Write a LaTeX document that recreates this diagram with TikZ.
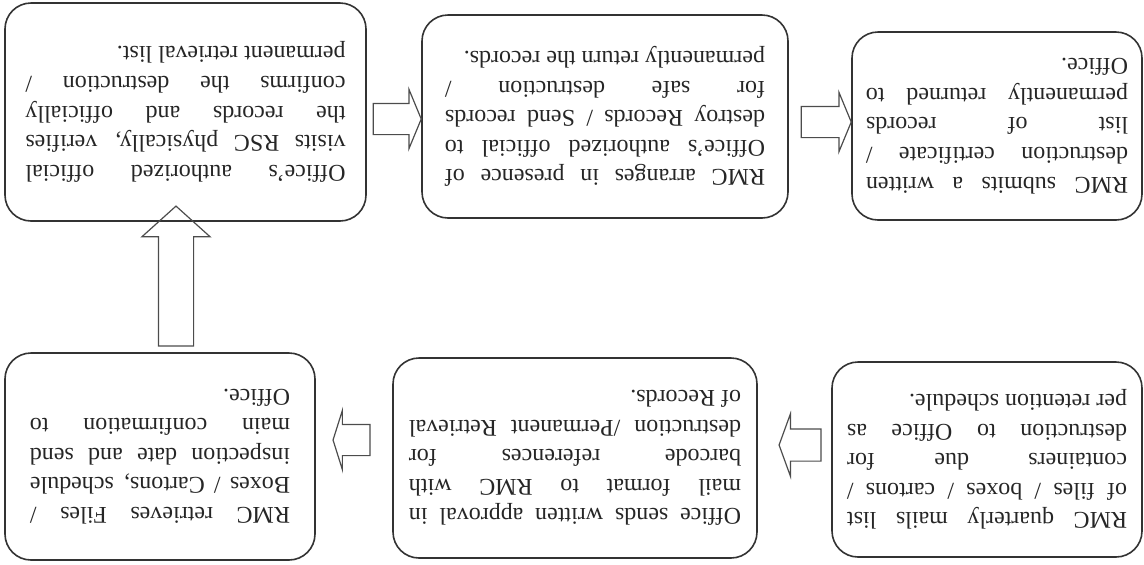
\documentclass[tikz,border=0pt]{standalone}
\usepackage{fontspec}
\setmainfont{Liberation Serif}
\usetikzlibrary{shapes.arrows}

\hyphenpenalty=10000
\exhyphenpenalty=10000

\begin{document}
\begin{tikzpicture}[x=0.5pt,y=-0.5pt,
  stage/.style={draw=black!80,line width=0.8pt,rounded corners=13pt,rotate=180,
    align=justify,inner sep=0pt,text=black!85,
    font=\fontsize{12}{14.8}\selectfont},
  blockarrow/.style={draw=black!70,line width=0.6pt,single arrow,inner xsep=0pt,
    inner ysep=7.5pt,single arrow head extend=7pt}]
\useasboundingbox (0,0) rectangle (1144,564);

% scanned page is upside down: text turned by 180 degrees
\node[stage,minimum width=180.5pt,minimum height=109pt,text width=160pt] (visit) at (185.5,112)
  {Office's authorized official\linebreak visits RSC physically, verifies\linebreak the records and officially\linebreak confirms the destruction /\linebreak permanent retrieval list.};
\node[stage,minimum width=183pt,minimum height=101.5pt,text width=160pt] (destroy) at (605,116.5)
  {RMC arranges in presence of\linebreak Office's authorized official to\linebreak destroy Records / Send records\linebreak for safe destruction /\linebreak permanently return the records.};
\node[stage,minimum width=145pt,minimum height=94pt,text width=131pt] (certify) at (997,126)
  {RMC submits a written\linebreak destruction certificate /\linebreak list of records\linebreak permanently returned to\linebreak Office.};
\node[stage,minimum width=155pt,minimum height=103.5pt,text width=130pt] (retrieve) at (160,456.5)
  {RMC retrieves Files /\linebreak Boxes / Cartons, schedule\linebreak inspection date and send\linebreak main confirmation to\linebreak Office.};
\node[stage,minimum width=182pt,minimum height=100pt,text width=166pt] (approve) at (575,458)
  {Office sends written approval in\linebreak mail format to RMC with\linebreak barcode references for\linebreak destruction /Permanent Retrieval\linebreak of Records.};
\node[stage,minimum width=155pt,minimum height=97.5pt,text width=140pt] (mail) at (987,459.5)
  {RMC quarterly mails list\linebreak of files / boxes / cartons /\linebreak containers due for\linebreak destruction to Office as\linebreak per retention schedule.};

% hollow arrows between the steps
\node[blockarrow,minimum height=24pt,single arrow tip angle=135] (a1) at (394,119) {};
\node[blockarrow,minimum height=25pt,single arrow tip angle=135] (a2) at (823,122) {};
\node[blockarrow,minimum height=18.5pt,single arrow tip angle=145,rotate=180] (a3) at (354,440) {};
\node[blockarrow,minimum height=21pt,inner ysep=7.75pt,single arrow head extend=7.5pt,single arrow tip angle=140,rotate=180] (a4) at (803,445) {};
\node[blockarrow,minimum height=70pt,inner ysep=8.5pt,single arrow head extend=8.25pt,single arrow tip angle=96,rotate=90] (a5) at (176,284) {};
\end{tikzpicture}
\end{document}
